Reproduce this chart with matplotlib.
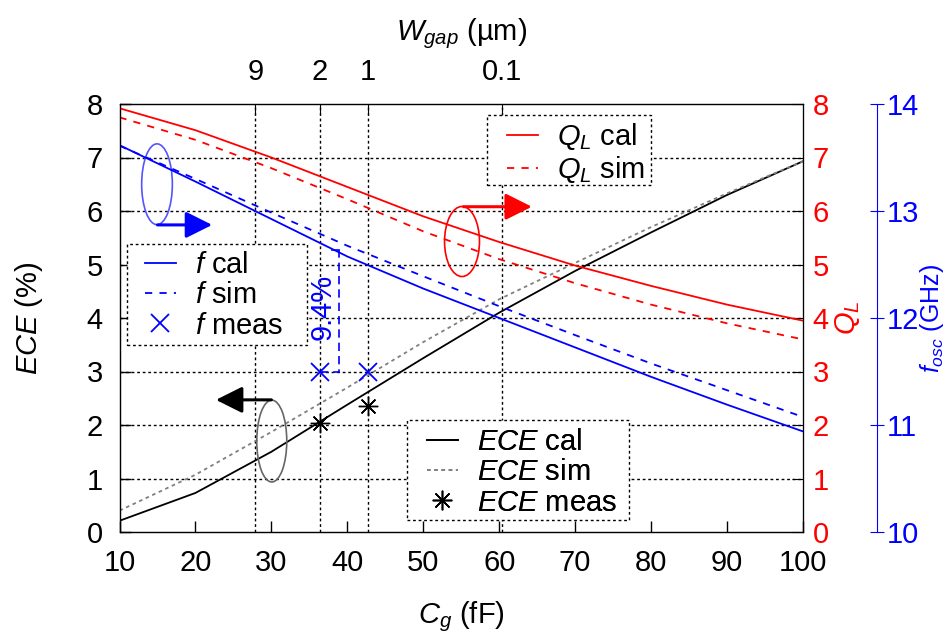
import numpy as np
import matplotlib
matplotlib.use("Agg")
from matplotlib import pyplot as plt
from matplotlib.patches import Ellipse, Rectangle

plt.rcParams['font.family'] = ['Liberation Sans', 'DejaVu Sans']
plt.rcParams['mathtext.fontset'] = 'custom'
plt.rcParams['mathtext.rm'] = 'Liberation Sans'
plt.rcParams['mathtext.it'] = 'Liberation Sans:italic'
plt.rcParams['font.size'] = 21

# data
cg = [10, 20, 30, 40, 50, 60, 70, 80, 90, 100]
ece_cal = [0.21, 0.73, 1.50, 2.38, 3.25, 4.10, 4.88, 5.60, 6.30, 6.93]
ece_sim = [0.40, 1.07, 1.87, 2.70, 3.55, 4.35, 5.03, 5.70, 6.33, 6.93]
ql_cal = [7.92, 7.51, 7.00, 6.45, 5.90, 5.42, 4.98, 4.60, 4.25, 3.95]
ql_sim = [7.75, 7.33, 6.80, 6.22, 5.62, 5.10, 4.65, 4.25, 3.90, 3.60]
f_cal = [13.615, 13.275, 12.925, 12.575, 12.275, 12.0, 11.725, 11.45, 11.19, 10.94]
f_sim = [13.61, 13.30, 12.985, 12.675, 12.39, 12.11, 11.84, 11.575, 11.325, 11.075]

cg_meas = [36.4, 42.7]
f_meas = [11.5, 11.5]
ece_meas = [2.03, 2.36]

wgap_pos = [27.9, 36.4, 42.7, 60.3]
wgap_labels = ['9', '2', '1', '0.1']

RED = '#ff0000'
BLUE = '#0000ff'
DOT = (0, (2, 2))
FS = 21
W, H = 946, 636

fig = plt.figure(figsize=(9.46, 6.36), dpi=100)
ax = fig.add_axes([119.5/W, 1-532/H, 683.5/W, 428/H])
ax.set_xlim(10, 100)
ax.set_ylim(0, 8)
ax.set_xticks(range(10, 101, 10))
ax.set_yticks(range(0, 9))
ax.tick_params(direction='in', length=8, width=1, top=True, right=True, pad=12)
ax.tick_params(axis='x', pad=12)

# grid
for y in range(1, 8):
    ax.axhline(y, color='black', lw=1, ls=DOT, zorder=0.5)
for x in wgap_pos:
    ax.axvline(x, color='black', lw=1, ls=DOT, zorder=0.5)

l_ece_cal, = ax.plot(cg, ece_cal, color='black', lw=1.3, label=r'$ECE$ cal')
l_ece_sim, = ax.plot(cg, ece_sim, color='#808080', lw=1.3, ls=DOT, label=r'$ECE$ sim')
l_ece_meas, = ax.plot(cg_meas, ece_meas, ls='none', marker=(8, 2, 0), ms=14, mew=1.0,
                      color='black', label=r'$ECE$ meas')
ax.set_ylabel(r'$ECE$ (%)', fontsize=FS)
ax.yaxis.set_label_coords(-0.109, 0.5)
ax.set_xlabel(r'$C_g$ (fF)', fontsize=FS)
ax.xaxis.set_label_coords(0.5, -0.158)

# top axis with W_gap
axt = ax.twiny()
axt.set_xlim(10, 100)
axt.set_xticks(wgap_pos)
axt.set_xticklabels(wgap_labels)
axt.tick_params(direction='in', length=8, pad=13)
axt.set_xlabel(r'$W_{gap}$ (µm)', fontsize=FS)
axt.xaxis.set_label_coords(0.5, 1.15)

# Q_L axis
axq = ax.twinx()
axq.set_ylim(0, 8)
axq.set_yticks(range(0, 9))
axq.tick_params(direction='in', length=8, colors='black', labelcolor=RED, pad=7)
l_ql_cal, = axq.plot(cg, ql_cal, color=RED, lw=1.3, label=r'$Q_L$ cal')
l_ql_sim, = axq.plot(cg, ql_sim, color=RED, lw=1.3, ls=(0, (4, 4)), label=r'$Q_L$ sim')
axq.set_ylabel(r'$Q_L$', color=RED, fontsize=FS)
axq.yaxis.set_label_coords(1.044, 0.5)

# f_osc axis
axf = ax.twinx()
axf.set_ylim(10, 14)
axf.set_yticks(range(10, 15))
axf.spines['right'].set_position(('outward', 74 * 0.72))
axf.spines['right'].set_color(BLUE)
axf.tick_params(direction='inout', length=10, color=BLUE, labelcolor=BLUE, pad=2)
l_f_cal, = axf.plot(cg, f_cal, color=BLUE, lw=1.3, label=r'$f$ cal')
l_f_sim, = axf.plot(cg, f_sim, color=BLUE, lw=1.3, ls=(0, (4, 4)), label=r'$f$ sim')
l_f_meas, = axf.plot(cg_meas, f_meas, ls='none', marker='x', ms=13, mew=1.3,
                     color=BLUE, label=r'$f$ meas')
axf.set_ylabel(r'$f_{osc}$ (GHz)', color=BLUE, fontsize=18)
axf.yaxis.set_label_coords(1.1685, 0.5)

# 9.4% annotation (in f axis units)
axf.plot([36.4, 38.9, 38.9], [11.5, 11.5, 12.64], color=BLUE, lw=1.2, ls=(0, (5, 3)))
axf.plot([38.0, 38.9], [12.64, 12.64], color=BLUE, lw=1.2)
axf.text(36.7, 12.1, '9.4%', color=BLUE, rotation=90, ha='center', va='center', fontsize=FS)

# ellipses + arrows pointing to the axis each group belongs to
def marker_ring(a, cx, cy, w, h, ring_color, arrow_color, tail, head):
    a.add_patch(Ellipse((cx, cy), w, h, fill=False, ec=ring_color, lw=1.2, zorder=3))
    a.annotate('', xy=head, xytext=tail,
               arrowprops=dict(arrowstyle='-|>,head_length=0.9,head_width=0.45',
                               color=arrow_color, lw=2.2, shrinkA=0, shrinkB=0,
                               mutation_scale=18))

marker_ring(ax, 14.94, 6.5, 4.04, 1.51, '#5555ff', BLUE, (15.0, 5.74), (22.2, 5.74))
marker_ring(ax, 55.1, 5.43, 4.6, 1.31, RED, RED, (55.3, 6.08), (64.3, 6.08))
marker_ring(ax, 30.05, 1.70, 3.95, 1.53, '#666666', 'black', (30.0, 2.47), (22.7, 2.47))

# legends: frameless key placed at the handle start, dotted box drawn separately
legkw = dict(loc='upper left', bbox_transform=fig.transFigure, frameon=False,
             borderpad=0, handlelength=1.06, handletextpad=0.65, labelspacing=0.08,
             borderaxespad=0, fontsize=FS)

def keybox(handles, box, handle_x, first_row_y):
    x0, y0, x1, y1 = box
    axf.add_artist(Rectangle((x0/W, 1-y1/H), (x1-x0)/W, (y1-y0)/H, transform=fig.transFigure,
                             fc='white', ec='black', lw=1, ls=DOT, zorder=4.5, clip_on=False))
    lg = axf.legend(handles=handles, bbox_to_anchor=(handle_x/W, 1-(first_row_y-12)/H), **legkw)
    lg.set_zorder(5)
    axf.add_artist(lg)

keybox([l_f_cal, l_f_sim, l_f_meas], (127, 244, 307, 345), 145, 263)
keybox([l_ql_cal, l_ql_sim], (487, 115, 651, 185), 507, 133)
keybox([l_ece_cal, l_ece_sim, l_ece_meas], (407, 420, 629, 520), 427, 440)

fig.savefig('out.png', dpi=100)
